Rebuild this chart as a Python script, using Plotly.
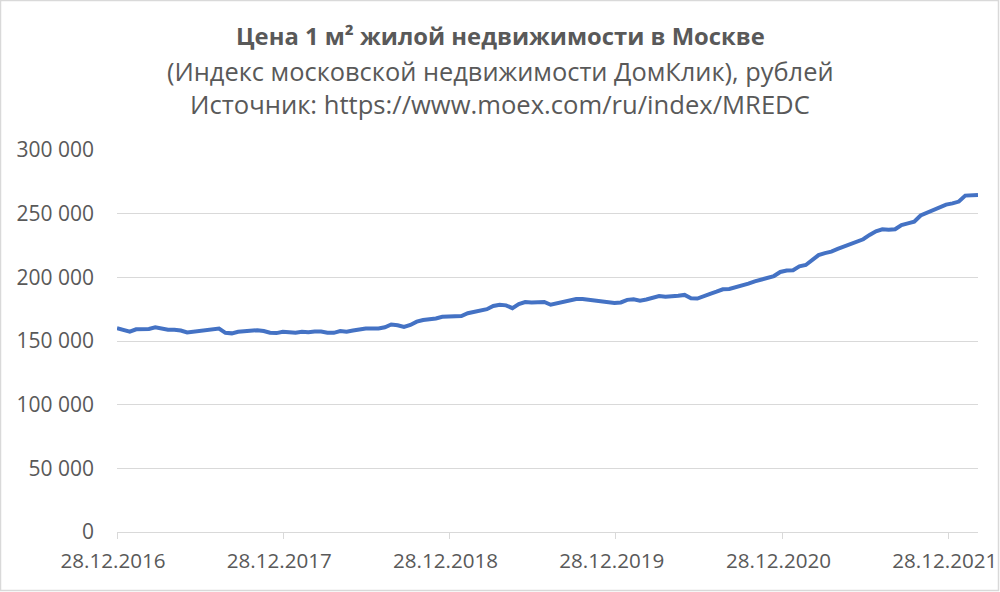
import plotly.graph_objects as go
import pandas as pd

# Biweekly index values (thousand rubles per m2)
start_date = "2016-12-28"
values = [
    160.0, 158.6, 157.3, 159.2, 159.0, 159.5, 160.8, 160.0, 158.8, 158.9,
    158.2, 156.7, 157.3, 157.6, 158.6, 159.0, 159.8, 156.4, 156.0, 157.3,
    157.8, 158.1, 158.5, 157.8, 156.5, 156.2, 157.3, 156.9, 156.5, 157.2,
    156.9, 157.4, 157.4, 156.5, 156.4, 157.8, 157.3, 158.2, 159.0, 159.8,
    159.8, 159.9, 160.8, 163.0, 162.4, 161.0, 162.6, 165.2, 166.5, 167.0,
    167.7, 169.0, 169.1, 169.5, 169.6, 171.8, 172.6, 173.9, 175.0, 177.5,
    178.5, 178.0, 175.8, 179.0, 180.6, 180.2, 180.5, 180.7, 178.5, 179.8,
    181.1, 181.8, 183.0, 183.0, 182.3, 181.4, 180.7, 180.0, 179.9, 180.3,
    182.3, 182.7, 181.7, 182.6, 184.3, 185.3, 184.7, 184.9, 185.5, 186.2,
    183.6, 183.3, 185.5, 187.0, 188.7, 190.6, 190.9, 192.0, 193.3, 195.0,
    196.8, 198.1, 199.5, 201.0, 204.2, 205.3, 205.6, 208.6, 209.7, 213.4,
    217.5, 219.0, 220.2, 222.3, 224.0, 225.8, 227.6, 229.9, 233.3, 236.2,
    237.7, 237.3, 237.8, 241.1, 242.4, 243.7, 248.6, 250.9, 252.8, 255.2,
    257.1, 258.1, 259.5, 264.2, 264.7, 264.7,
]
prices = [v * 1000 for v in values]
dates = pd.date_range(start_date, periods=len(prices), freq="14D")

tick_dates = ["2016-12-28", "2017-12-28", "2018-12-28", "2019-12-28", "2020-12-28", "2021-12-28"]
tick_labels = ["28.12.2016", "28.12.2017", "28.12.2018", "28.12.2019", "28.12.2020", "28.12.2021"]
y_ticks = [0, 50000, 100000, 150000, 200000, 250000, 300000]

title_lines = [
    "<b>Цена 1 м² жилой недвижимости в Москве</b>",
    "(Индекс московской недвижимости ДомКлик), рублей",
    "Источник: https://www.moex.com/ru/index/MREDC",
]

W, H = 1000, 592
ML, MR, MT, MB = 117, 22, 150, 60
pw, ph = W - ML - MR, H - MT - MB

text_color = "#595959"
grid_color = "#d9d9d9"
font_family = "Open Sans, Noto Sans, sans-serif"

fig = go.Figure()
fig.add_trace(go.Scatter(
    x=dates, y=prices, mode="lines",
    line=dict(color="#4472C4", width=4),
    hoverinfo="skip", showlegend=False,
))

fig.update_layout(
    width=W, height=H,
    margin=dict(l=ML, r=MR, t=MT, b=MB, autoexpand=False),
    paper_bgcolor="white", plot_bgcolor="white",
    separators=", ",
    font=dict(family=font_family, color=text_color, size=21),
    xaxis=dict(
        type="date",
        range=[dates[0], dates[-1]],
        tickvals=tick_dates, ticktext=tick_labels,
        showgrid=False, zeroline=False,
        showline=True, linecolor=grid_color, linewidth=1,
        ticks="outside", ticklen=6, tickcolor=grid_color,
        ticklabelstandoff=4,
        ticklabelshift=-4,
        ticklabeloverflow="allow",
        automargin=False,
        tickfont=dict(size=20.6, color=text_color),
    ),
    yaxis=dict(
        range=[0, 300000],
        tickvals=y_ticks, tickformat=",d",
        showgrid=True, gridcolor=grid_color, gridwidth=1,
        zeroline=False, showline=False, ticks="",
        ticklabelstandoff=22,
        automargin=False,
        tickfont=dict(size=21, color=text_color),
    ),
)

# Title lines
title_y = [36, 71, 104]
title_sizes = [23.8, 25.4, 25.6]
for txt, yy, sz in zip(title_lines, title_y, title_sizes):
    fig.add_annotation(
        text=txt, showarrow=False,
        xref="paper", yref="paper",
        x=(500 - ML) / pw, y=(H - MB - yy) / ph,
        xanchor="center", yanchor="middle",
        font=dict(size=sz, color=text_color, family=font_family),
    )

# Chart border
fig.add_shape(
    type="rect", xref="paper", yref="paper",
    x0=(0.5 - ML) / pw, x1=(W - 1.5 - ML) / pw,
    y0=(H - MB - (H - 1.5)) / ph, y1=(H - MB - 0.5) / ph,
    line=dict(color=grid_color, width=1.5), layer="below",
)

fig.write_html(
    "out.html",
    config={"displayModeBar": False},
    post_script="document.body.style.margin='0';document.body.style.overflow='hidden';",
)
